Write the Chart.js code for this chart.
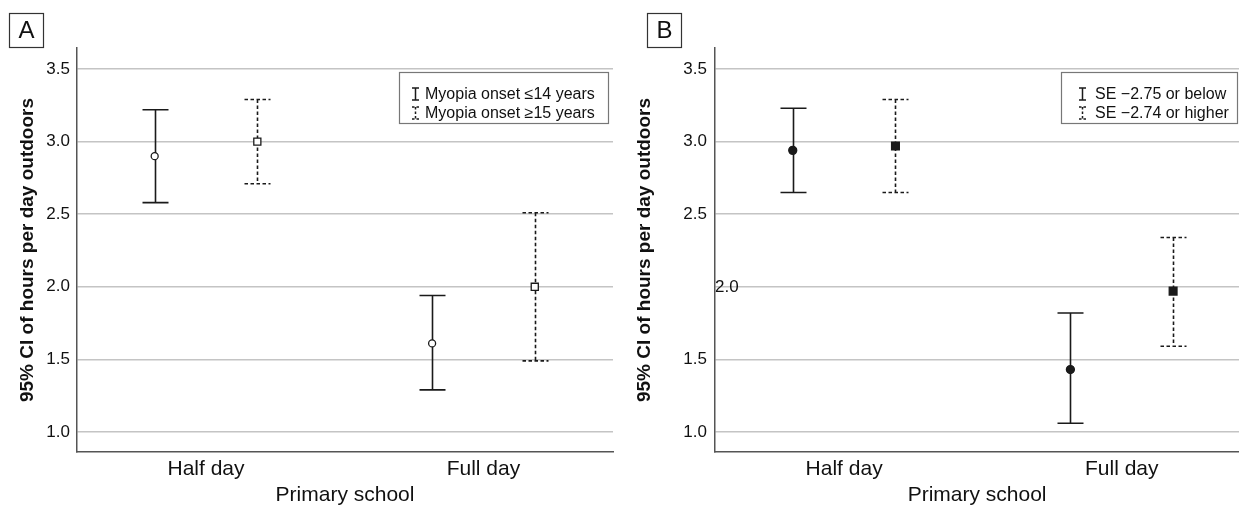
<!DOCTYPE html>
<html><head><meta charset="utf-8">
<script src="https://cdn.jsdelivr.net/npm/chart.js@4.4.1/dist/chart.umd.min.js"></script>
<style>
html,body{margin:0;padding:0;background:#fff;width:1239px;height:506px;overflow:hidden}
#wa{position:absolute;left:0;top:0;width:620px;height:506px;overflow:hidden}
#wb{position:absolute;left:620px;top:0;width:619px;height:506px;overflow:hidden}
</style></head><body>
<div id="wa"><canvas id="ca" width="620" height="506"></canvas></div>
<div id="wb"><canvas id="cb" width="626" height="506"></canvas></div>
<script>
// ---- data ----
const categories = ['Half day', 'Full day'];
const yTickValues = [1.0, 1.5, 2.0, 2.5, 3.0, 3.5];
const yTickLabels = ['1.0', '1.5', '2.0', '2.5', '3.0', '3.5'];
const yAxisTitle = '95% CI of hours per day outdoors';
const xAxisTitle = 'Primary school';

// Panel A
const legendA = ['Myopia onset ≤14 years', 'Myopia onset ≥15 years'];
const onsetEarlyMean = [2.90, 1.61];
const onsetEarlyLow  = [2.58, 1.29];
const onsetEarlyHigh = [3.22, 1.94];
const onsetLateMean  = [3.00, 2.00];
const onsetLateLow   = [2.71, 1.49];
const onsetLateHigh  = [3.29, 2.51];

// Panel B
const legendB = ['SE −2.75 or below', 'SE −2.74 or higher'];
const seLowMean  = [2.94, 1.43];
const seLowLow   = [2.65, 1.06];
const seLowHigh  = [3.23, 1.82];
const seHighMean = [2.97, 1.97];
const seHighLow  = [2.65, 1.59];
const seHighHigh = [3.29, 2.34];

// ---- rendering ----
Chart.defaults.font.family = "'Liberation Sans', Arial, sans-serif";
Chart.defaults.color = '#111';

const INK = '#1a1a1a';

const errorBars = {
  id: 'errorBars',
  beforeDatasetsDraw(chart) {
    const { ctx, scales: { x, y } } = chart;
    chart.data.datasets.forEach(ds => {
      ctx.save();
      ctx.strokeStyle = INK;
      ctx.lineWidth = 1.6;
      ctx.setLineDash(ds.dashed ? [3.5, 2.5] : []);
      ds.data.forEach((p, i) => {
        const px = Math.round(x.getPixelForValue(p.x)) + 0.5;
        const yl = y.getPixelForValue(ds.lower[i]);
        const yh = y.getPixelForValue(ds.upper[i]);
        ctx.beginPath();
        ctx.moveTo(px, yh); ctx.lineTo(px, yl);
        ctx.moveTo(px - 13, yh); ctx.lineTo(px + 13, yh);
        ctx.moveTo(px - 13, yl); ctx.lineTo(px + 13, yl);
        ctx.stroke();
      });
      ctx.restore();
    });
  }
};

function drawIcon(ctx, x, yc, dashed) {
  ctx.save();
  ctx.strokeStyle = INK;
  ctx.lineWidth = 1.5;
  ctx.setLineDash(dashed ? [2.5, 2] : []);
  ctx.beginPath();
  ctx.moveTo(x, yc - 6); ctx.lineTo(x, yc + 6);
  ctx.moveTo(x - 3.5, yc - 6); ctx.lineTo(x + 3.5, yc - 6);
  ctx.moveTo(x - 3.5, yc + 6); ctx.lineTo(x + 3.5, yc + 6);
  ctx.stroke();
  ctx.restore();
}

const decor = {
  id: 'decor',
  afterDraw(chart, args, o) {
    const ctx = chart.ctx;
    ctx.save();
    // panel label
    ctx.strokeStyle = '#333'; ctx.lineWidth = 1.2;
    ctx.strokeRect(o.panel.x + 0.5, 13.5, 34, 34);
    ctx.fillStyle = '#111';
    ctx.font = "24px 'Liberation Sans', Arial, sans-serif";
    ctx.textAlign = 'center'; ctx.textBaseline = 'middle';
    ctx.fillText(o.panel.text, o.panel.x + 17.5, 31);
    // legend
    const b = o.legend;
    ctx.strokeStyle = '#777'; ctx.lineWidth = 1.2;
    ctx.strokeRect(b.x + 0.5, 72.5, b.w, 51);
    ctx.font = "16px 'Liberation Sans', Arial, sans-serif";
    ctx.textAlign = 'left'; ctx.textBaseline = 'middle';
    b.labels.forEach((t, i) => {
      const yc = 94 + i * 19;
      drawIcon(ctx, b.iconX + 0.5, yc, i === 1);
      ctx.fillStyle = '#111';
      ctx.fillText(t, b.textX, yc + 1);
    });
    // tick label drawn inside the axis (panel B quirk)
    if (o.insideTick != null) {
      const ys = chart.scales.y;
      ctx.font = "17px 'Liberation Sans', Arial, sans-serif";
      ctx.fillStyle = '#111';
      ctx.textAlign = 'left'; ctx.textBaseline = 'middle';
      ctx.fillText(yTickLabels[yTickValues.indexOf(o.insideTick)], ys.right, ys.getPixelForValue(o.insideTick) + 1);
    }
    ctx.restore();
  }
};

function series(label, mean, lo, hi, offset, dashed, style, radius, fill) {
  return {
    label,
    data: mean.map((m, i) => ({ x: i + 1 + offset, y: m })),
    lower: lo, upper: hi, dashed,
    pointStyle: style, pointRadius: radius, pointHoverRadius: radius,
    pointBackgroundColor: fill, pointBorderColor: INK, pointBorderWidth: 1.3,
    showLine: false
  };
}

function makeChart(id, c) {
  return new Chart(document.getElementById(id), {
    type: 'scatter',
    data: { datasets: c.datasets },
    plugins: [errorBars, decor],
    options: {
      responsive: false, animation: false, devicePixelRatio: 1,
      layout: { padding: { top: 48, left: 0, right: c.rightPad, bottom: 0 } },
      plugins: {
        legend: { display: false }, tooltip: { enabled: false },
        decor: { panel: c.panel, legend: c.legend, insideTick: c.insideTick }
      },
      scales: {
        x: {
          type: 'linear', min: 0.535, max: c.xMax,
          afterBuildTicks: s => { s.ticks = categories.map((_, i) => ({ value: i + 1 })); },
          ticks: {
            callback: v => categories[Math.round(v) - 1] ?? '',
            font: { size: 21 }, color: '#111', padding: 5, maxRotation: 0, autoSkip: false
          },
          grid: { display: false, drawTicks: false },
          border: { display: true, color: '#555', width: 1.5 },
          title: { display: true, text: xAxisTitle, font: { size: 21, lineHeight: 1 }, color: '#111', padding: { top: 0, bottom: 0 } },
          afterFit: s => { s.height = 54; }
        },
        y: {
          min: 0.862, max: 3.645,
          afterBuildTicks: s => { s.ticks = yTickValues.map(v => ({ value: v })); },
          ticks: {
            callback: v => (c.insideTick === v) ? '' : yTickLabels[yTickValues.indexOf(v)],
            font: { size: 17 }, color: '#111', padding: c.tickPad
          },
          grid: { color: '#c4c4c4', lineWidth: 1.5, drawTicks: false },
          border: { display: true, color: '#555', width: 1.5 },
          title: { display: true, text: yAxisTitle, font: { size: 19, weight: 'bold' }, color: '#111', padding: { top: c.titlePad, bottom: 0 } },
          afterFit: s => { s.width = c.axisW; }
        }
      }
    }
  });
}

makeChart('ca', {
  axisW: 77, rightPad: 7, xMax: 2.467, tickPad: 7, titlePad: 16,
  panel: { x: 9, text: 'A' },
  legend: { x: 399, w: 209, iconX: 415, textX: 425, labels: legendA },
  insideTick: null,
  datasets: [
    series(legendA[0], onsetEarlyMean, onsetEarlyLow, onsetEarlyHigh, -0.185, false, 'circle', 3.5, '#fff'),
    series(legendA[1], onsetLateMean, onsetLateLow, onsetLateHigh, 0.185, true, 'rect', 5, '#fff')
  ]
});

makeChart('cb', {
  axisW: 95, rightPad: 0, xMax: 2.423, tickPad: 8, titlePad: 13,
  panel: { x: 27, text: 'B' },
  legend: { x: 441, w: 176, iconX: 462, textX: 475, labels: legendB },
  insideTick: 2.0,
  datasets: [
    series(legendB[0], seLowMean, seLowLow, seLowHigh, -0.185, false, 'circle', 4, INK),
    series(legendB[1], seHighMean, seHighLow, seHighHigh, 0.185, true, 'rect', 5.5, INK)
  ]
});
</script>
</body></html>
